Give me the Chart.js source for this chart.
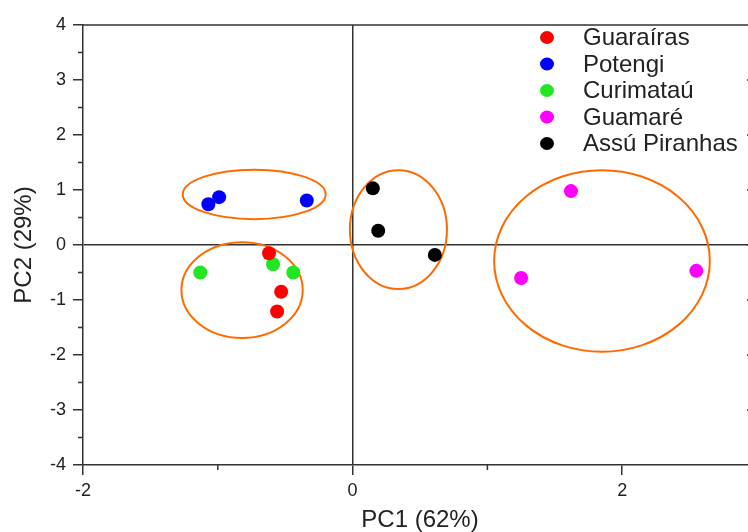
<!DOCTYPE html>
<html>
<head>
<meta charset="utf-8">
<script src="https://cdn.jsdelivr.net/npm/chart.js@4/dist/chart.umd.min.js"></script>
<style>
  html, body { margin: 0; padding: 0; background: #fff; overflow: hidden; }
  canvas { display: block; }
</style>
</head>
<body>
<canvas id="pca" width="780" height="532"></canvas>
<script>
    // groups and colours
    const groups = ['Guaraíras', 'Potengi', 'Curimataú', 'Guamaré', 'Assú Piranhas']
    const groupColors = ['#ff0000', '#0000ff', '#22e622', '#ff00ff', '#000000']

    // PC scores
    const guarairasPC1 = [-0.62, -0.53, -0.56]
    const guarairasPC2 = [-0.15, -0.85, -1.21]
    const potengiPC1 = [-1.07, -0.99, -0.34]
    const potengiPC2 = [0.74, 0.87, 0.81]
    const curimatauPC1 = [-1.13, -0.59, -0.44]
    const curimatauPC2 = [-0.50, -0.35, -0.50]
    const guamarePC1 = [1.62, 1.25, 2.55]
    const guamarePC2 = [0.98, -0.60, -0.47]
    const assuPC1 = [0.15, 0.19, 0.61]
    const assuPC2 = [1.03, 0.26, -0.18]

    // cluster ellipses (data units)
    const ellipseCx = [-0.73, -0.82, 0.34, 1.85]
    const ellipseCy = [0.92, -0.82, 0.28, -0.29]
    const ellipseRx = [0.53, 0.45, 0.36, 0.80]
    const ellipseRy = [0.45, 0.87, 1.08, 1.65]

    const xTicks = [-2, 0, 2]
    const xMinor = [-1, 1]

    const pc1 = [guarairasPC1, potengiPC1, curimatauPC1, guamarePC1, assuPC1]
    const pc2 = [guarairasPC2, potengiPC2, curimatauPC2, guamarePC2, assuPC2]

    const FONT = "'Liberation Sans', Arial, sans-serif"
    const AXIS = '#333'

    const datasets = groups.map((g, i) => ({
        label: g,
        data: pc1[i].map((x, j) => ({x: x, y: pc2[i][j]})),
        backgroundColor: groupColors[i],
        borderColor: groupColors[i],
        borderWidth: 0,
        pointRadius: 7,
        pointHoverRadius: 7
    }))

    const decor = {
        id: 'decor',
        beforeDatasetsDraw(chart) {
            const {ctx, scales: {x, y}} = chart
            ctx.save()
            ctx.strokeStyle = '#ff6a00'
            ctx.lineWidth = 2
            ellipseCx.forEach((cx, i) => {
                const px = x.getPixelForValue(cx)
                const py = y.getPixelForValue(ellipseCy[i])
                const rx = Math.abs(x.getPixelForValue(cx + ellipseRx[i]) - px)
                const ry = Math.abs(y.getPixelForValue(ellipseCy[i] + ellipseRy[i]) - py)
                ctx.beginPath()
                ctx.ellipse(px, py, rx, ry, 0, 0, Math.PI * 2)
                ctx.stroke()
            })
            ctx.restore()
        },
        afterDraw(chart) {
            const {ctx, chartArea: a, scales: {x, y}} = chart
            ctx.save()
            ctx.strokeStyle = AXIS
            ctx.lineWidth = 1.5
            // top and right frame
            ctx.beginPath()
            ctx.moveTo(a.left, a.top)
            ctx.lineTo(a.right, a.top)
            ctx.lineTo(a.right, a.bottom)
            ctx.stroke()
            // minor ticks
            ctx.beginPath()
            for (let v = -3.5; v < 4; v += 1) {
                const py = y.getPixelForValue(v)
                ctx.moveTo(a.left - 5, py)
                ctx.lineTo(a.left, py)
            }
            xMinor.forEach(v => {
                const px = x.getPixelForValue(v)
                ctx.moveTo(px, a.bottom)
                ctx.lineTo(px, a.bottom + 5)
            })
            // inward ticks on the right frame
            for (let v = -3; v <= 3; v++) {
                const py = y.getPixelForValue(v)
                ctx.moveTo(a.right - 10, py)
                ctx.lineTo(a.right, py)
            }
            ctx.stroke()

            // legend
            const lx = 547, ly = 37.5, step = 26.5
            ctx.font = '24px ' + FONT
            ctx.textBaseline = 'middle'
            groups.forEach((g, i) => {
                const yy = ly + i * step
                ctx.beginPath()
                ctx.fillStyle = groupColors[i]
                ctx.ellipse(lx, yy, 7, 6.5, 0, 0, Math.PI * 2)
                ctx.fill()
                ctx.fillStyle = '#222'
                ctx.fillText(g, 583, yy + 1)
            })
            ctx.restore()
        }
    }

    const ctx = document.getElementById('pca').getContext('2d')
    const chart = new Chart(ctx, {
        type: 'scatter',
        data: { datasets: datasets },
        options: {
            responsive: false,
            animation: false,
            devicePixelRatio: 1,
            layout: { padding: { top: 25, right: 23, bottom: 0, left: 0 } },
            plugins: {
                legend: { display: false },
                tooltip: { enabled: false }
            },
            scales: {
                x: {
                    type: 'linear',
                    min: -2,
                    max: 3,
                    afterFit: s => { s.height = 67 },
                    afterBuildTicks: s => { s.ticks = xTicks.map(v => ({value: v})) },
                    border: { display: true, color: AXIS, width: 1.5 },
                    grid: {
                        color: c => c.tick && c.tick.value === 0 ? AXIS : 'rgba(0,0,0,0)',
                        lineWidth: 1.5,
                        tickColor: AXIS,
                        tickLength: 10
                    },
                    ticks: {
                        padding: 5,
                        color: '#222',
                        font: { family: FONT, size: 18 }
                    },
                    title: {
                        display: true,
                        text: 'PC1 (62%)',
                        color: '#222',
                        padding: 0,
                        font: { family: FONT, size: 24, lineHeight: 1 }
                    }
                },
                y: {
                    type: 'linear',
                    min: -4,
                    max: 4,
                    afterFit: s => { s.width = 83 },
                    border: { display: true, color: AXIS, width: 1.5 },
                    grid: {
                        color: c => c.tick && c.tick.value === 0 ? AXIS : 'rgba(0,0,0,0)',
                        lineWidth: 1.5,
                        tickColor: AXIS,
                        tickLength: 10
                    },
                    ticks: {
                        stepSize: 1,
                        padding: 7,
                        color: '#222',
                        font: { family: FONT, size: 18 }
                    },
                    title: {
                        display: true,
                        text: 'PC2 (29%)',
                        color: '#222',
                        padding: { top: 12, bottom: 0 },
                        font: { family: FONT, size: 24, lineHeight: 1 }
                    }
                }
            }
        },
        plugins: [decor]
    })
</script>
</body>
</html>
